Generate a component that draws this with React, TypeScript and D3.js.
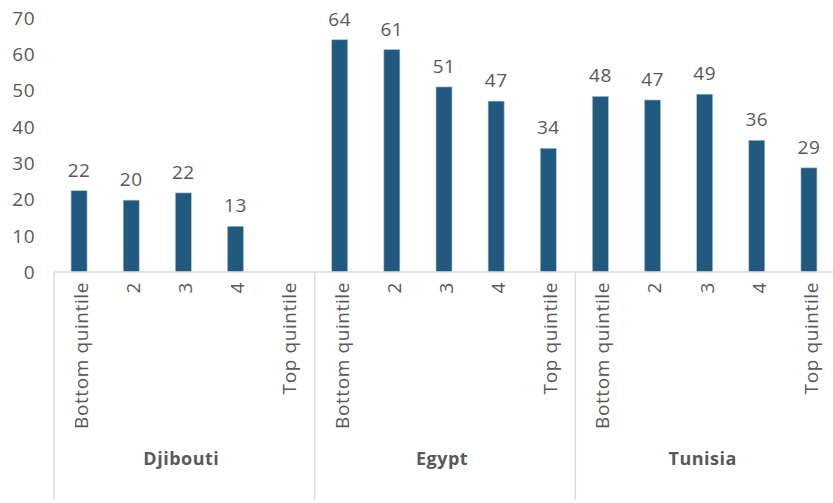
import React from "react";
import * as d3 from "d3";

const countries = ["Djibouti", "Egypt", "Tunisia"];
const quintiles = ["Bottom quintile", "2", "3", "4", "Top quintile"];
const djiboutiValues: (number | null)[] = [22.4, 19.8, 21.8, 12.6, null];
const egyptValues: (number | null)[] = [64.0, 61.3, 51.0, 47.1, 34.1];
const tunisiaValues: (number | null)[] = [48.4, 47.4, 49.0, 36.3, 28.7];
const yTicks = [0, 10, 20, 30, 40, 50, 60, 70];

const W = 833;
const H = 503;
const FONT = "'Open Sans', sans-serif";
const TEXT = "#595959";
const BAR = "#215A7E";
const GRID = "#D9DCE1";

export default function App() {
  const series = [djiboutiValues, egyptValues, tunisiaValues];
  const rows = countries.flatMap((c, ci) =>
    quintiles.map((q, qi) => ({ key: `${c}|${q}`, country: c, quintile: q, value: series[ci][qi] }))
  );
  const left = 54;
  const right = 836;
  const y = d3.scaleLinear().domain([0, 70]).range([272, 18]);
  const x = d3.scaleBand<string>().domain(rows.map((r) => r.key)).range([left, right]).paddingInner(0).paddingOuter(0);
  const groupX = d3.scaleBand<string>().domain(countries).range([left, right]);
  const bw = 16;

  return (
    <svg width={W} height={H} style={{ position: "absolute", left: 0, top: 0, background: "#fff" }} fontFamily={FONT}>
      {yTicks.map((t) => (
        <text key={t} x={35} y={y(t)} dy="0.36em" textAnchor="end" fontSize={19} letterSpacing={0.5} fill={TEXT}>
          {t}
        </text>
      ))}
      {rows.map((r) => {
        if (r.value == null) return null;
        const cx = x(r.key)! + x.bandwidth() / 2 - 1;
        return (
          <g key={r.key}>
            <rect
              x={cx - bw / 2}
              y={y(r.value)}
              width={bw}
              height={y(0) - y(r.value)}
              fill={BAR}
              stroke="#A9C1D4"
              strokeWidth={0.6}
            />
            <text x={cx} y={y(r.value) - 14} textAnchor="middle" fontSize={19} letterSpacing={0.5} fill={TEXT}>
              {Math.round(r.value)}
            </text>
          </g>
        );
      })}
      <line x1={left} x2={W} y1={y(0)} y2={y(0)} stroke={GRID} strokeWidth={1.5} />
      {countries.map((c) => (
        <line key={c} x1={groupX(c)!} x2={groupX(c)!} y1={y(0)} y2={500} stroke={GRID} strokeWidth={1.5} />
      ))}
      {rows.map((r) => {
        const cx = x(r.key)! + x.bandwidth() / 2 + 1;
        return (
          <text
            key={"l" + r.key}
            transform={`translate(${cx},282) rotate(-90)`}
            textAnchor="end"
            dy="0.36em"
            fontSize={19}
            letterSpacing={0.6}
            fill={TEXT}
          >
            {r.quintile}
          </text>
        );
      })}
      {countries.map((c) => (
        <text
          key={"g" + c}
          x={groupX(c)! + groupX.bandwidth() / 2 - 3}
          y={459}
          dy="0.36em"
          textAnchor="middle"
          fontSize={18}
          fontWeight={700}
          letterSpacing={0.5}
          fill={TEXT}
        >
          {c}
        </text>
      ))}
    </svg>
  );
}
